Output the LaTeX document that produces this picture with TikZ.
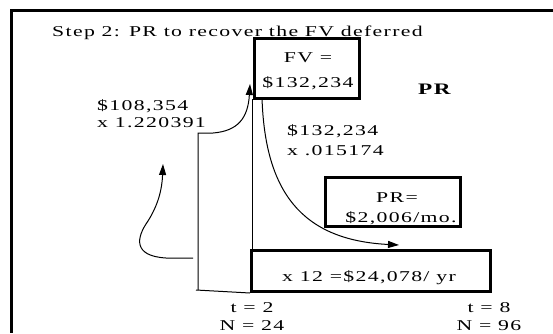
\documentclass[tikz,border=0pt]{standalone}
\usepackage{fontspec}
\setmainfont{Liberation Serif}
\newfontfamily\spfont[FakeStretch=1.45,LetterSpace=9]{Liberation Serif}
\newfontfamily\spbold[FakeStretch=1.45,LetterSpace=9]{Liberation Serif Bold}
\usetikzlibrary{arrows.meta}
\begin{document}
\begin{tikzpicture}[x=1pt,y=-1pt,
  txt/.style={font=\spfont\fontsize{15}{18}\selectfont, inner sep=0pt, anchor=base},
  ltxt/.style={txt, anchor=base west},
  thickbox/.style={draw, line width=3pt, inner sep=0pt, anchor=north west},
  thin/.style={line width=1pt},
  arr/.style={thin, -{Triangle[length=11pt,width=7pt]}},
]
\useasboundingbox (0,0) rectangle (553,333);
% frame
\draw[line width=3pt] (553,10) -- (11.5,10) -- (11.5,333);

% title
\node[ltxt] (title) at (52,36) {Step 2: PR to recover the FV deferred};

% boxes
\node[thickbox, minimum width=105, minimum height=60] (fv) at (253,37) {};
\node[thickbox, minimum width=135, minimum height=49] (pr) at (324,176) {};
\node[thickbox, minimum width=239, minimum height=41] (x12) at (250,249) {};

% box texts
\node[txt] (fvt1) at (308,62) {FV =};
\node[txt] (fvt2) at (308,87) {\$132,234};
\node[txt] (prt1) at (397,202) {PR=};
\node[txt] (prt2) at (401,222) {\$2,006/mo.};
\node[txt] (x12t) at (369,281) {x 12 =\$24,078/ yr};

% labels
\node[inner sep=0pt, anchor=base west, font=\spbold\fontsize{16}{19}\selectfont] (prbold) at (418,94) {PR};
\node[ltxt] (l1a) at (97,110) {\$108,354};
\node[ltxt] (l1b) at (97,127) {x 1.220391};
\node[ltxt] (l2a) at (287,135) {\$132,234};
\node[ltxt] (l2b) at (287,155) {x .015174};
\node[txt] (t2) at (252,312) {t = 2};
\node[txt] (n24) at (252,330) {N = 24};
\node[txt] (t8) at (489,312) {t = 8};
\node[txt] (n96) at (489,330) {N = 96};

% coordinates
\coordinate (corner) at (198,290);
\coordinate (top) at (198,133);
\coordinate (tipA) at (250,84);
\coordinate (fvdrop) at (252,99);
\coordinate (fvout) at (262,98);
\coordinate (tipB) at (399,245);
\coordinate (lstart) at (193,258);
\coordinate (tipC) at (163,164);

% connectors
\draw[thin] (x12.south west) -- (196,290);
\draw[arr] (corner) -- (top) -- (213,133) .. controls (238,131) and (248,118) .. (tipA);
\draw[thin] (fvdrop) -- (fvdrop |- x12.north);
\draw[arr] (fvout) .. controls (265,190) and (300,240) .. (tipB);
\draw[arr] (lstart) -- (166,258) .. controls (133,256) and (136,238) .. (148,221) .. controls (158,205) and (162,190) .. (tipC);
\end{tikzpicture}
\end{document}
